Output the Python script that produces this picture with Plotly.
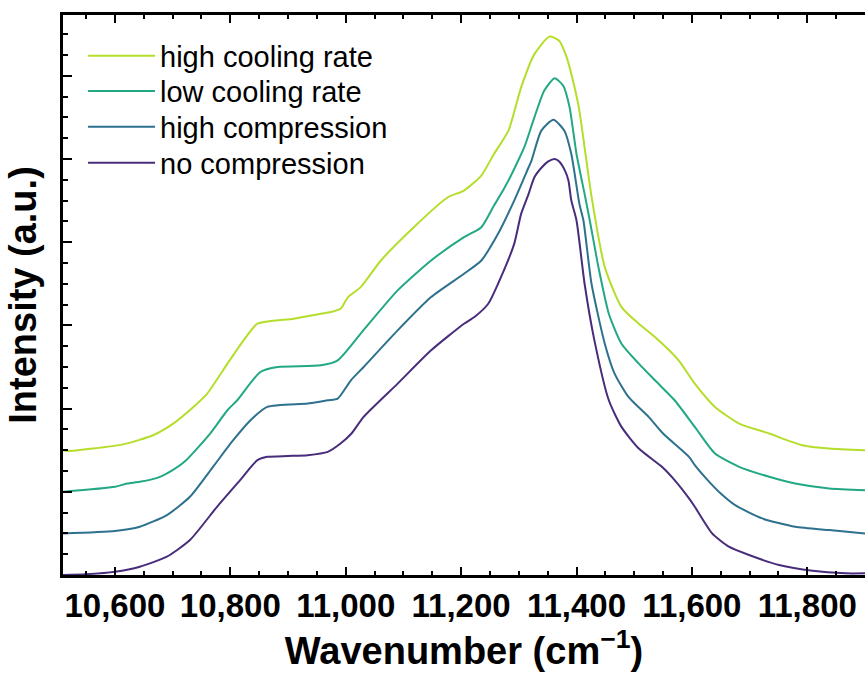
import plotly.graph_objects as go

# ---- data ----
series_names = ["high cooling rate", "low cooling rate", "high compression", "no compression"]
series_colors = ["#b5de2b", "#22a884", "#2d718e", "#472d7b"]

x_high_cooling = [10510, 10517, 10614, 10666, 10701, 10736, 10760, 10795, 10823, 10847, 10910, 10957,
                  10974, 10991, 11004, 11026, 11061, 11118, 11177, 11205, 11235, 11257, 11282, 11304,
                  11327, 11353, 11370, 11383, 11391, 11404, 11414, 11426, 11449, 11478, 11508, 11536,
                  11577, 11605, 11640, 11682, 11734, 11791, 11838, 11900]
y_high_cooling = [1.50, 1.49, 1.57, 1.68, 1.82, 2.02, 2.18, 2.54, 2.82, 3.02, 3.08, 3.14,
                  3.16, 3.20, 3.34, 3.46, 3.78, 4.18, 4.54, 4.62, 4.80, 5.06, 5.34, 5.86,
                  6.26, 6.47, 6.42, 6.22, 6.02, 5.62, 5.14, 4.55, 3.70, 3.22, 3.02, 2.86,
                  2.58, 2.30, 2.02, 1.82, 1.70, 1.56, 1.52, 1.50]

x_low_cooling = [10510, 10600, 10621, 10643, 10678, 10700, 10722, 10765, 10795, 10812, 10852, 10882,
                 10957, 10986, 11028, 11090, 11148, 11205, 11235, 11257, 11275, 11292, 11310, 11327,
                 11344, 11362, 11377, 11388, 11400, 11414, 11423, 11438, 11456, 11478, 11508, 11536,
                 11570, 11605, 11640, 11682, 11734, 11779, 11838, 11900]
y_low_cooling = [1.00, 1.06, 1.10, 1.12, 1.18, 1.26, 1.37, 1.70, 1.98, 2.10, 2.44, 2.50,
                 2.52, 2.58, 2.92, 3.42, 3.78, 4.06, 4.18, 4.44, 4.65, 4.88, 5.15, 5.50,
                 5.82, 5.97, 5.88, 5.62, 5.06, 4.58, 4.26, 3.70, 3.14, 2.78, 2.54, 2.34,
                 2.10, 1.78, 1.46, 1.30, 1.18, 1.10, 1.04, 1.02]

x_high_compression = [10510, 10600, 10643, 10690, 10730, 10770, 10805, 10835, 10864, 10934, 10969, 10986,
                      11009, 11031, 11090, 11148, 11205, 11235, 11264, 11292, 11317, 11322, 11339, 11360,
                      11379, 11391, 11405, 11412, 11426, 11449, 11466, 11490, 11525, 11550, 11595, 11605,
                      11630, 11650, 11675, 11722, 11779, 11838, 11900]
y_high_compression = [0.50, 0.53, 0.58, 0.72, 0.94, 1.30, 1.62, 1.86, 2.02, 2.06, 2.10, 2.12,
                      2.34, 2.50, 2.94, 3.34, 3.62, 3.78, 4.10, 4.50, 4.90, 4.98, 5.34, 5.47,
                      5.34, 5.06, 4.46, 4.26, 3.50, 2.78, 2.42, 2.14, 1.90, 1.70, 1.42, 1.32,
                      1.12, 0.98, 0.84, 0.68, 0.58, 0.54, 0.50]

x_no_compression = [10510, 10550, 10600, 10643, 10690, 10730, 10777, 10817, 10847, 10864, 10900, 10934,
                    10969, 10991, 11010, 11031, 11090, 11148, 11205, 11223, 11247, 11264, 11292, 11304,
                    11317, 11327, 11340, 11351, 11362, 11370, 11380, 11386, 11391, 11400, 11414, 11431,
                    11456, 11478, 11508, 11548, 11570, 11595, 11605, 11635, 11664, 11699, 11751, 11809,
                    11866, 11900]
y_no_compression = [0.00, 0.01, 0.04, 0.10, 0.22, 0.42, 0.82, 1.14, 1.38, 1.42, 1.43, 1.44,
                    1.48, 1.58, 1.70, 1.90, 2.30, 2.70, 3.02, 3.10, 3.26, 3.50, 3.98, 4.34,
                    4.58, 4.78, 4.90, 4.97, 5.00, 4.97, 4.86, 4.74, 4.50, 4.26, 3.50, 2.82,
                    2.10, 1.78, 1.52, 1.30, 1.14, 0.92, 0.82, 0.50, 0.34, 0.24, 0.12, 0.05,
                    0.02, 0.02]

xs = [x_high_cooling, x_low_cooling, x_high_compression, x_no_compression]
ys = [y_high_cooling, y_low_cooling, y_high_compression, y_no_compression]

x_range = [10510, 11900]
y_range = [0, 6.73]

FONT = "Liberation Sans, Arial, sans-serif"
legend_ids = ["legend", "legend2", "legend3", "legend4"]
legend_rows_y = [0.927, 0.864, 0.800, 0.736]   # paper y of each legend row centre

fig = go.Figure()
for name, color, xv, yv, lid in zip(series_names, series_colors, xs, ys, legend_ids):
    fig.add_trace(go.Scatter(x=xv, y=yv, mode="lines", name=name, legend=lid,
                             line=dict(color=color, width=2, shape="spline", smoothing=0.6)))

legend_common = dict(x=0.025, xanchor="left", yanchor="middle",
                     font=dict(family=FONT, size=29, color="black"),
                     bgcolor="rgba(0,0,0,0)", itemwidth=67, borderwidth=0)
legend_layout = {lid: dict(y=ly, **legend_common) for lid, ly in zip(legend_ids, legend_rows_y)}

tick_font = dict(family=FONT, size=33, color="black", weight="bold")
title_font = dict(family=FONT, size=38, color="black", weight="bold")

fig.update_layout(
    width=865, height=675,
    margin=dict(l=63, r=0, t=15, b=100),
    paper_bgcolor="white", plot_bgcolor="white",
    showlegend=True,
    xaxis=dict(
        range=x_range, tick0=10600, dtick=200, tickformat=",d",
        showline=True, linecolor="black", linewidth=2.5, mirror="ticks",
        ticks="inside", ticklen=8, tickwidth=2, tickcolor="black",
        minor=dict(dtick=50, ticks="inside", ticklen=4, tickwidth=2, tickcolor="black"),
        showgrid=False, zeroline=False, tickfont=tick_font,
        title=dict(text="Wavenumber (cm<sup>−1</sup>)", font=title_font, standoff=6),
    ),
    yaxis=dict(
        range=y_range, tick0=0, dtick=1, showticklabels=False,
        showline=True, linecolor="black", linewidth=2.5, mirror=False,
        ticks="inside", ticklen=9, tickwidth=2, tickcolor="black",
        minor=dict(dtick=0.25, ticks="inside", ticklen=5, tickwidth=2, tickcolor="black"),
        showgrid=False, zeroline=False,
        title=dict(text="Intensity (a.u.)", font=title_font, standoff=12),
    ),
    **legend_layout,
)

fig.write_html("out.html")
